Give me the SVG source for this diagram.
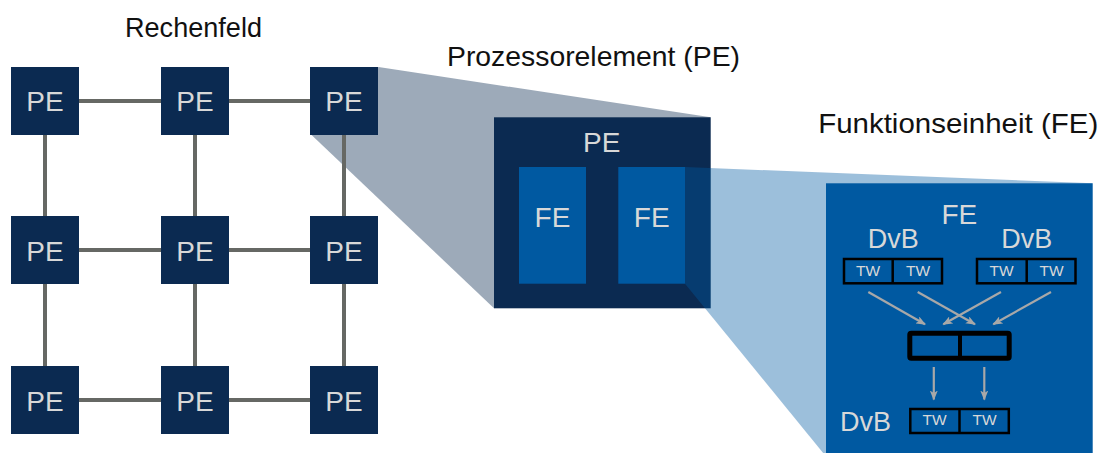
<svg xmlns="http://www.w3.org/2000/svg" width="1101" height="453" viewBox="0 0 1101 453">
  <defs>
    <style>
      .pe { fill: #0b2a51; }
      .fe { fill: #0059a1; }
      .lbl { font-family: "Liberation Sans", Arial, sans-serif; fill: #d8d8d8; text-anchor: middle; }
      .title { font-family: "Liberation Sans", Arial, sans-serif; fill: #111; text-anchor: middle; font-size: 28px; }
      .big { font-size: 28px; }
      .mid { font-size: 27px; }
      .tw { font-size: 15.5px; }
      .link { stroke: #666864; stroke-width: 4; fill: none; }
      .flow { stroke: #a8a8a8; stroke-width: 2.2; fill: none; marker-end: url(#head); }
      .reg { fill: #0059a1; stroke: #000; stroke-width: 2.5; }
      .regbold { fill: #0059a1; stroke: #000; stroke-width: 5; }
    </style>
    <marker id="head" viewBox="0 0 10 8" refX="9" refY="4" markerWidth="10" markerHeight="8" markerUnits="userSpaceOnUse" orient="auto">
      <path d="M0,0 L10,4 L0,8 L2.5,4 z" fill="#a8a8a8"/>
    </marker>
  </defs>

  <rect width="1101" height="453" fill="#fff"/>

  <!-- titles -->
  <text class="title" x="193.5" y="36.5" textLength="137" lengthAdjust="spacingAndGlyphs">Rechenfeld</text>
  <text class="title" x="593.5" y="66" textLength="293" lengthAdjust="spacingAndGlyphs">Prozessorelement (PE)</text>
  <text class="title" x="958.2" y="133.3" textLength="280" lengthAdjust="spacingAndGlyphs">Funktionseinheit (FE)</text>

  <!-- magnification wedge: grid PE -> processor element -->
  <polygon points="378.5,67 710.7,117.3 494,308.3 310.5,134" fill="#0b2a51" fill-opacity="0.4"/>

  <!-- grid links -->
  <g id="connectors">
    <line class="link" x1="45" y1="101" x2="344" y2="101"/>
    <line class="link" x1="45" y1="250" x2="344" y2="250"/>
    <line class="link" x1="45" y1="400" x2="344" y2="400"/>
    <line class="link" x1="45" y1="101" x2="45" y2="400"/>
    <line class="link" x1="195" y1="101" x2="195" y2="400"/>
    <line class="link" x1="344" y1="101" x2="344" y2="400"/>
  </g>

  <!-- processing field -->
  <g id="pe-1-1"><rect class="pe" x="11" y="67" width="68" height="68"/><text class="lbl big" x="45" y="111">PE</text></g>
  <g id="pe-1-2"><rect class="pe" x="161" y="67" width="68" height="68"/><text class="lbl big" x="195" y="111">PE</text></g>
  <g id="pe-1-3"><rect class="pe" x="310" y="67" width="68" height="68"/><text class="lbl big" x="344" y="111">PE</text></g>
  <g id="pe-2-1"><rect class="pe" x="11" y="216" width="68" height="68"/><text class="lbl big" x="45" y="261">PE</text></g>
  <g id="pe-2-2"><rect class="pe" x="161" y="216" width="68" height="68"/><text class="lbl big" x="195" y="261">PE</text></g>
  <g id="pe-2-3"><rect class="pe" x="310" y="216" width="68" height="68"/><text class="lbl big" x="344" y="261">PE</text></g>
  <g id="pe-3-1"><rect class="pe" x="11" y="366" width="68" height="68"/><text class="lbl big" x="45" y="411">PE</text></g>
  <g id="pe-3-2"><rect class="pe" x="161" y="366" width="68" height="68"/><text class="lbl big" x="195" y="411">PE</text></g>
  <g id="pe-3-3"><rect class="pe" x="310" y="366" width="68" height="68"/><text class="lbl big" x="344" y="411">PE</text></g>

  <!-- processor element detail -->
  <g id="pe-detail">
    <rect class="pe" x="494" y="117.3" width="216.7" height="191"/>
    <text class="lbl big" x="601.7" y="151.7">PE</text>
  </g>
  <g id="fe-left">
    <rect class="fe" x="519" y="167" width="67" height="116.7"/>
    <text class="lbl big" x="552.5" y="226.7">FE</text>
  </g>
  <g id="fe-right">
    <rect class="fe" x="618.3" y="167" width="66.7" height="116.7"/>
    <text class="lbl big" x="651.7" y="226.7">FE</text>
  </g>

  <!-- magnification wedge: FE -> functional unit -->
  <polygon points="685,167 1092.7,183.3 826,456.5 685,283.7" fill="#0059a1" fill-opacity="0.39"/>

  <!-- functional unit detail -->
  <g id="fe-detail">
    <rect class="fe" x="826" y="183.3" width="266.7" height="275"/>
    <text class="lbl big" x="959.3" y="224.3">FE</text>
  </g>

  <g id="dvb-in-left">
    <text class="lbl mid" x="893.3" y="248.3">DvB</text>
    <rect class="reg" x="844" y="259" width="98" height="24.3"/>
    <line x1="892.7" y1="259" x2="892.7" y2="283.3" stroke="#000" stroke-width="2.5"/>
    <text class="lbl tw" x="868" y="275.7">TW</text>
    <text class="lbl tw" x="918" y="275.7">TW</text>
  </g>

  <g id="dvb-in-right">
    <text class="lbl mid" x="1026.7" y="248.3">DvB</text>
    <rect class="reg" x="977" y="259" width="98.5" height="24.3"/>
    <line x1="1026.7" y1="259" x2="1026.7" y2="283.3" stroke="#000" stroke-width="2.5"/>
    <text class="lbl tw" x="1001.5" y="275.7">TW</text>
    <text class="lbl tw" x="1051.5" y="275.7">TW</text>
  </g>

  <g id="operator">
    <rect class="regbold" x="909.8" y="333.2" width="99.4" height="25" rx="1.5"/>
    <line x1="960" y1="333.2" x2="960" y2="358.2" stroke="#000" stroke-width="4"/>
  </g>

  <g id="dvb-out">
    <text class="lbl mid" x="865.5" y="430.7">DvB</text>
    <rect class="reg" x="910.3" y="409" width="98.5" height="24"/>
    <line x1="959.5" y1="409" x2="959.5" y2="433" stroke="#000" stroke-width="2.5"/>
    <text class="lbl tw" x="934.5" y="425">TW</text>
    <text class="lbl tw" x="984.5" y="425">TW</text>
  </g>

  <!-- data flow -->
  <g id="flows">
    <line class="flow" x1="868.3" y1="292" x2="925" y2="324.3"/>
    <line class="flow" x1="917.7" y1="292" x2="975" y2="324.3"/>
    <line class="flow" x1="1001" y1="292" x2="943.3" y2="324.3"/>
    <line class="flow" x1="1051" y1="292" x2="993.3" y2="324.3"/>
    <line class="flow" x1="933.8" y1="367" x2="933.8" y2="399.5"/>
    <line class="flow" x1="984.3" y1="367" x2="984.3" y2="399.5"/>
  </g>
</svg>
